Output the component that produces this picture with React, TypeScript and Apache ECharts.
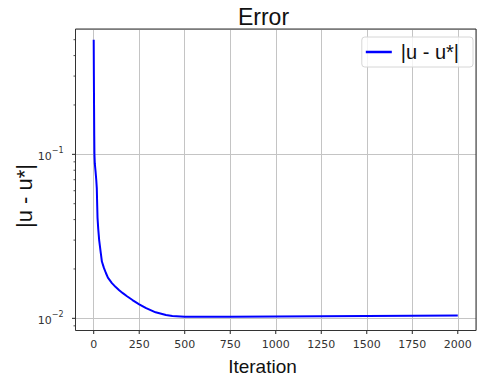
import React, { useEffect, useRef } from 'react';
import * as echarts from 'echarts';

// ---- data ----
const iterations = [0, 1, 2, 3, 4, 6, 10, 14, 17, 19, 21, 25, 30, 39, 45, 56, 67, 78, 100, 121, 140, 160, 183, 213, 250, 288, 340, 397, 432, 500, 750, 1000, 1250, 1500, 1750, 2000];
const errors = [0.5, 0.3, 0.19, 0.13, 0.1, 0.088, 0.079, 0.07, 0.062, 0.05, 0.041, 0.035, 0.03, 0.025, 0.0222, 0.0203, 0.0189, 0.0177, 0.0164, 0.01551, 0.01484, 0.01424, 0.01363, 0.01293, 0.01218, 0.01153, 0.01088, 0.01049, 0.01034, 0.01024, 0.01022, 0.01025, 0.01029, 0.01032, 0.01036, 0.0104];

const xTicks = [0, 250, 500, 750, 1000, 1250, 1500, 1750, 2000];
const yMajorTicks = [0.01, 0.1];
const yMinorTicks = [0.009, 0.02, 0.03, 0.04, 0.05, 0.06, 0.07, 0.08, 0.09, 0.2, 0.3, 0.4, 0.5];

const X_MIN = -100;
const X_MAX = 2100;
const Y_MIN = 0.00843;
const Y_MAX = 0.581;

const titleText = 'Error';
const xLabel = 'Iteration';
const yLabel = '|u - u*|';
const seriesName = '|u - u*|';

const SANS = '"Liberation Sans", Arial, sans-serif';
const TICKFONT = '"DejaVu Sans", sans-serif';

export default function App() {
  const ref = useRef<HTMLDivElement>(null);

  useEffect(() => {
    if (!ref.current) return;
    const chart = echarts.init(ref.current, null, { renderer: 'svg' });

    const tickData: number[][] = [
      ...xTicks.map((v) => [v, Y_MIN, 0]),
      ...yMajorTicks.map((v) => [X_MIN, v, 1]),
      ...yMinorTicks.map((v) => [X_MIN, v, 2]),
      [X_MIN, Y_MAX, 3],
    ];

    const option: any = {
      animation: false,
      backgroundColor: '#ffffff',
      grid: { left: 75.5, top: 29, width: 402.2, height: 301.5, containLabel: false },
      legend: {
        data: [seriesName],
        right: 6,
        top: 37,
        icon: 'rect',
        itemWidth: 26,
        itemHeight: 2.5,
        padding: [5, 14, 5, 4],
        borderColor: '#d6d6d6',
        borderWidth: 1,
        borderRadius: 3,
        backgroundColor: 'rgba(255,255,255,0.8)',
        textStyle: { fontSize: 20, fontFamily: SANS, color: '#111', padding: [0, 0, 0, 4] },
      },
      xAxis: {
        type: 'value',
        min: X_MIN,
        max: X_MAX,
        minInterval: 250,
        maxInterval: 250,
        splitNumber: 8,
        axisLine: { show: false },
        axisTick: { show: false },
        axisLabel: {
          margin: 8,
          fontSize: 11,
          fontFamily: TICKFONT,
          color: '#333',
          formatter: (v: number) => (xTicks.indexOf(v) >= 0 ? String(v) : ''),
        },
        splitLine: { show: true, lineStyle: { color: '#c4c4c4', width: 1 } },
      },
      yAxis: {
        type: 'log',
        logBase: 10,
        min: Y_MIN,
        max: Y_MAX,
        axisLine: { show: false },
        axisTick: { show: false },
        axisLabel: {
          margin: 12,
          formatter: (v: number) => {
            const e = Math.log10(v);
            const r = Math.round(e);
            if (Math.abs(e - r) > 1e-6) return '';
            const exp = r < 0 ? '\u2212' + -r : String(r);
            return '{b|10}{s|' + exp + '}';
          },
          rich: {
            b: { fontSize: 11, fontFamily: TICKFONT, color: '#333', lineHeight: 16, verticalAlign: 'bottom' },
            s: { fontSize: 8, fontFamily: TICKFONT, color: '#333', lineHeight: 16, verticalAlign: 'top' },
          },
        },
        splitLine: { show: true, lineStyle: { color: '#c4c4c4', width: 1 } },
      },
      series: [
        {
          name: seriesName,
          type: 'line',
          data: iterations.map((it, i) => [it, errors[i]]),
          showSymbol: false,
          symbol: 'none',
          lineStyle: { color: '#0000ff', width: 2 },
          itemStyle: { color: '#0000ff' },
          z: 3,
        },
        {
          name: 'axes',
          type: 'custom',
          silent: true,
          clip: false,
          z: 4,
          encode: { x: 0, y: 1 },
          data: tickData,
          renderItem: (params: any, api: any) => {
            const p = api.coord([api.value(0), api.value(1)]);
            const k = api.value(2);
            const stroke = '#222';
            if (k === 0) {
              return { type: 'line', shape: { x1: p[0], y1: p[1], x2: p[0], y2: p[1] + 3.5 }, style: { stroke, lineWidth: 1 } };
            }
            if (k === 1) {
              return { type: 'line', shape: { x1: p[0] - 3.5, y1: p[1], x2: p[0], y2: p[1] }, style: { stroke, lineWidth: 1 } };
            }
            if (k === 2) {
              return { type: 'line', shape: { x1: p[0] - 2, y1: p[1], x2: p[0], y2: p[1] }, style: { stroke, lineWidth: 0.8 } };
            }
            const q = api.coord([X_MAX, Y_MIN]);
            return {
              type: 'rect',
              shape: { x: p[0], y: p[1], width: q[0] - p[0], height: q[1] - p[1] },
              style: { fill: 'none', stroke: '#333', lineWidth: 1 },
            };
          },
        },
      ],
      graphic: [
        {
          type: 'text',
          x: 263.5,
          y: 17,
          style: { text: titleText, fontSize: 23, fontFamily: SANS, fill: '#111', align: 'center', verticalAlign: 'middle' },
        },
        {
          type: 'text',
          x: 262.5,
          y: 366,
          style: { text: xLabel, fontSize: 19, fontFamily: SANS, fill: '#111', align: 'center', verticalAlign: 'middle' },
        },
        {
          type: 'text',
          x: 24,
          y: 196,
          rotation: Math.PI / 2,
          style: { text: yLabel, fontSize: 22, fontFamily: SANS, fill: '#111', align: 'center', verticalAlign: 'middle' },
        },
      ],
    };

    chart.setOption(option);
    return () => chart.dispose();
  }, []);

  return <div ref={ref} style={{ width: 479, height: 375, position: 'absolute', left: 0, top: 0 }} />;
}
